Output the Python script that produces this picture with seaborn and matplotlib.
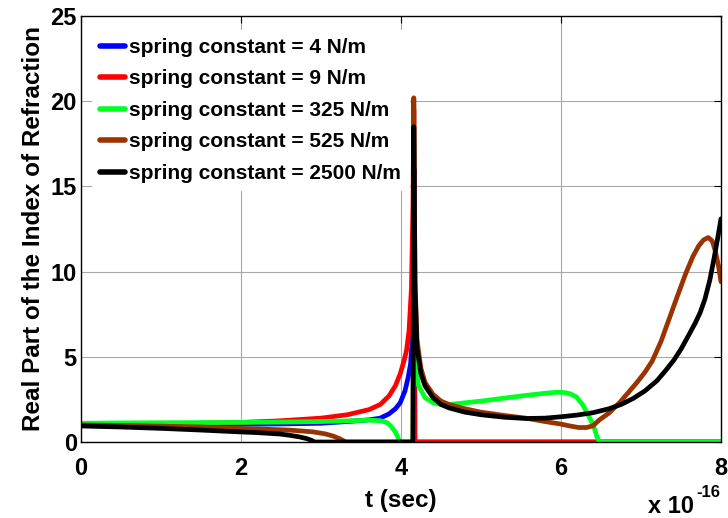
import matplotlib
matplotlib.use("Agg")
import matplotlib.pyplot as plt
import seaborn as sns
import pandas as pd

# ---- data (t in units of 1e-16 s) ----
labels = ["spring constant = 4 N/m", "spring constant = 9 N/m",
          "spring constant = 325 N/m", "spring constant = 525 N/m",
          "spring constant = 2500 N/m"]
colors = ["#0000ff", "#ff0000", "#00ff22", "#993300", "#000000"]

t_k4 = [0, 0.5, 1, 1.5, 2, 2.5, 3.0, 3.33, 3.6, 3.74, 3.85, 3.93, 3.99, 4.05, 4.09, 4.12, 4.14, 4.155, 4.165, 4.175, 8.0]
n_k4 = [1.0, 1.01, 1.02, 1.03, 1.04, 1.06, 1.1, 1.2, 1.3, 1.4, 1.65, 1.95, 2.3, 3.0, 3.8, 4.6, 6.0, 10.0, 16.0, 0, 0]

t_k9 = [0, 0.5, 1, 1.5, 2, 2.48, 3.0, 3.33, 3.6, 3.74, 3.85, 3.93, 3.99, 4.04, 4.07, 4.1, 4.13, 4.15, 4.16, 4.17, 8.0]
n_k9 = [1.0, 1.03, 1.06, 1.1, 1.15, 1.24, 1.4, 1.6, 1.9, 2.2, 2.7, 3.3, 4.0, 4.8, 5.4, 6.5, 9.0, 14.0, 19.5, 0, 0]

t_k325 = [0, 0.5, 1, 1.5, 2, 2.5, 3.0, 3.4, 3.6, 3.74, 3.82, 3.87, 3.92, 3.95, 3.97, 3.99, 4.15, 4.16,
          4.18, 4.22, 4.3, 4.4, 4.5, 4.6, 5.0, 5.5, 5.8, 5.95, 6.05, 6.12, 6.19, 6.27, 6.35, 6.41, 6.45, 6.48, 8.0]
n_k325 = [1.1, 1.12, 1.13, 1.14, 1.15, 1.17, 1.2, 1.25, 1.28, 1.25, 1.15, 0.95, 0.65, 0.4, 0.15, 0, 0, 9.0,
          4.5, 3.3, 2.6, 2.3, 2.2, 2.2, 2.4, 2.7, 2.86, 2.92, 2.9, 2.82, 2.65, 2.2, 1.5, 0.9, 0.3, 0, 0]

t_k525 = [0, 0.5, 1, 1.5, 1.86, 2.3, 2.6, 2.89, 3.05, 3.15, 3.23, 3.29, 3.31, 4.15, 4.16, 4.175, 4.2, 4.25,
          4.3, 4.4, 4.5, 4.6, 4.8, 5.0, 5.3, 5.56, 5.8, 6.0, 6.1, 6.22, 6.32, 6.4, 6.48, 6.6, 6.73, 6.85, 6.95,
          7.05, 7.14, 7.25, 7.35, 7.45, 7.56, 7.65, 7.72, 7.78, 7.84, 7.89, 7.93, 7.97, 8.0]
n_k525 = [1.0, 0.97, 0.93, 0.88, 0.8, 0.75, 0.7, 0.6, 0.48, 0.35, 0.2, 0.05, 0, 0, 20.2, 9.5, 6.0, 4.3,
          3.5, 2.8, 2.4, 2.2, 1.95, 1.75, 1.55, 1.4, 1.2, 1.05, 0.95, 0.85, 0.85, 0.95, 1.3, 1.7, 2.3, 2.95, 3.5,
          4.1, 4.75, 5.9, 7.2, 8.5, 9.9, 10.9, 11.5, 11.85, 12.0, 11.8, 11.2, 10.3, 9.4]

t_k2500 = [0, 0.5, 1, 1.5, 1.86, 2.2, 2.48, 2.6, 2.73, 2.82, 2.88, 2.92, 4.15, 4.16, 4.175, 4.2, 4.25, 4.3,
           4.4, 4.5, 4.6, 4.8, 5.0, 5.3, 5.56, 5.8, 6.0, 6.2, 6.4, 6.6, 6.75, 6.9, 7.05, 7.2, 7.3, 7.41, 7.5,
           7.6, 7.68, 7.74, 7.8, 7.86, 7.91, 7.96, 8.0]
n_k2500 = [0.94, 0.88, 0.8, 0.7, 0.62, 0.55, 0.47, 0.4, 0.3, 0.2, 0.1, 0, 0, 18.5, 9.0, 5.5, 4.0, 3.3,
           2.6, 2.2, 2.0, 1.75, 1.6, 1.45, 1.38, 1.4, 1.48, 1.58, 1.72, 1.95, 2.2, 2.55, 3.0, 3.6, 4.15, 4.8, 5.45,
           6.3, 7.0, 7.6, 8.4, 9.5, 10.7, 12.0, 13.1]

x_ticks = [0, 2, 4, 6, 8]
y_ticks = [0, 5, 10, 15, 20, 25]

series_t = [t_k4, t_k9, t_k325, t_k525, t_k2500]
series_n = [n_k4, n_k9, n_k325, n_k525, n_k2500]

rows = []
for lab, ts, ns in zip(labels, series_t, series_n):
    for t, n in zip(ts, ns):
        rows.append({"t": t, "n": n, "series": lab})
df = pd.DataFrame(rows)

sns.set_style("white")
plt.rcParams["font.family"] = ["Liberation Sans", "DejaVu Sans"]
plt.rcParams["font.weight"] = "bold"
plt.rcParams["text.color"] = "black"
plt.rcParams["axes.labelcolor"] = "black"
plt.rcParams["xtick.color"] = "black"
plt.rcParams["ytick.color"] = "black"

fig = plt.figure(figsize=(7.28, 5.18), dpi=100)
ax = fig.add_axes([81 / 728, 1 - 442 / 518, 640 / 728, 426 / 518])

sns.lineplot(data=df, x="t", y="n", hue="series", hue_order=labels,
             palette=dict(zip(labels, colors)), sort=False, estimator=None,
             linewidth=3.4, ax=ax, legend=True, zorder=3)

ax.set_xlim(0, 8)
ax.set_ylim(0, 25)
ax.set_xticks(x_ticks)
ax.set_yticks(y_ticks)
ax.set_xticklabels([str(v) for v in x_ticks], fontsize=17, fontweight="bold")
ax.set_yticklabels([str(v) for v in y_ticks], fontsize=17, fontweight="bold")
ax.tick_params(direction="in", length=5, width=0.8, top=True, right=True, colors="black")
ax.tick_params(axis="x", pad=11)
ax.tick_params(axis="y", pad=3)
ax.grid(True, color="#a8a8a8", linewidth=0.8)
ax.set_axisbelow(True)
for s in ax.spines.values():
    s.set_color("black")
    s.set_linewidth(1.0)
    s.set_zorder(5)

ax.set_xlabel("t (sec)", fontsize=17.5, fontweight="bold", labelpad=6, color="black")
ax.set_ylabel("Real Part of the Index of Refraction", fontsize=17.5, fontweight="bold", labelpad=4, color="black")

h, l = ax.get_legend_handles_labels()
leg = ax.legend(h, l, loc="upper left", bbox_to_anchor=(0.017, 0.968),
                prop={"weight": "bold", "size": 15}, frameon=True, facecolor="white",
                edgecolor="none", framealpha=1.0, fancybox=False, handlelength=1.2,
                handletextpad=0.2, labelspacing=0.6, borderpad=0.4, borderaxespad=0)
for line in leg.get_lines():
    line.set_linewidth(4)
for txt in leg.get_texts():
    txt.set_color("black")

fig.text(648 / 728, 1 - 513 / 518, "x 10", fontsize=17, fontweight="bold", ha="left", va="baseline", color="black")
fig.text(696 / 728, 1 - 497 / 518, "-16", fontsize=12, fontweight="bold", ha="left", va="baseline", color="black")

fig.savefig("out.png", dpi=100)
